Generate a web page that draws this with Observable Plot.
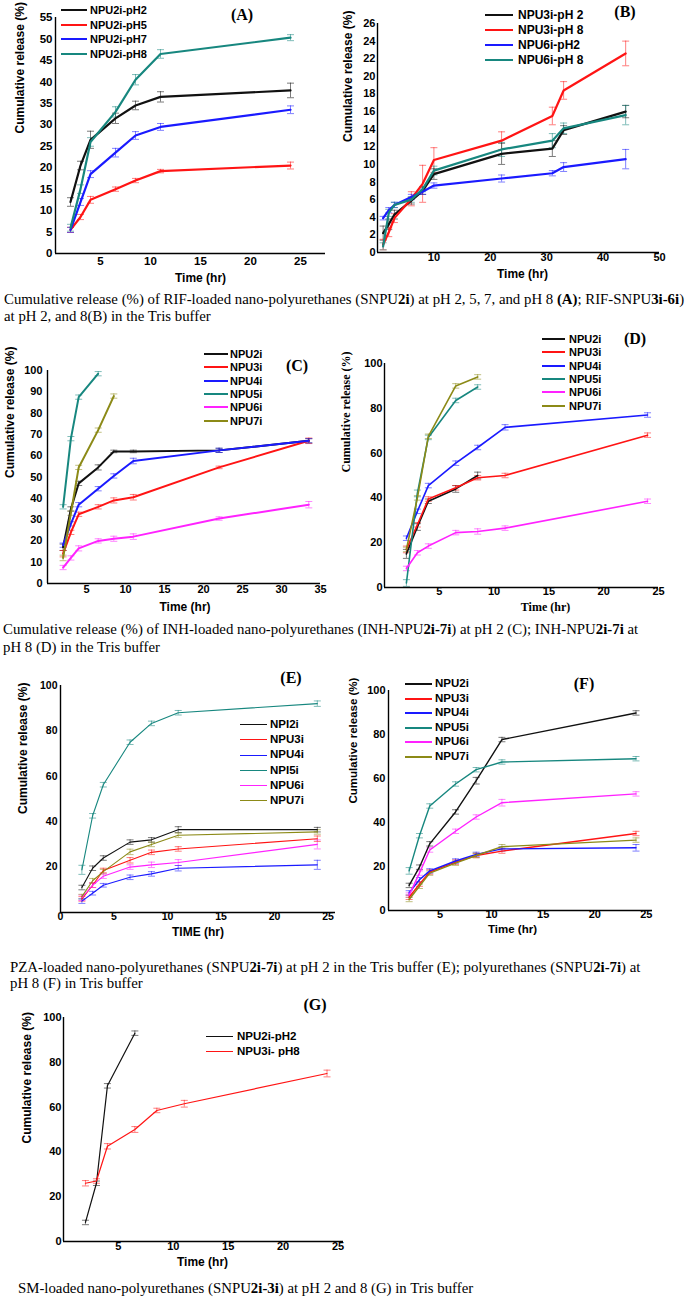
<!DOCTYPE html>
<html><head><meta charset="utf-8">
<script src="https://cdn.jsdelivr.net/npm/d3@7"></script>
<script src="https://cdn.jsdelivr.net/npm/@observablehq/plot@0.6"></script>
<style>
body{margin:0;background:#fff;}
#page{position:relative;width:687px;height:1299px;overflow:hidden;background:#fff;}
.abs{position:absolute;}
.cap{position:absolute;font-family:"Liberation Serif","Times New Roman",serif;font-size:13.5px;white-space:nowrap;line-height:1;transform:translateY(-50%);color:#000}
.leg{position:absolute;font-family:"Liberation Sans",Arial,sans-serif;font-weight:bold;white-space:nowrap;line-height:1;transform:translateY(-50%);color:#000}
.legline{position:absolute;height:0;}
.letter{position:absolute;font-family:"Liberation Serif","Times New Roman",serif;font-weight:bold;font-size:16px;line-height:1;transform:translate(-50%,-50%)}
</style></head>
<body><div id="page"></div>
<script>
// ---------- DATA ----------
const colBlack = "#111111", colRed = "#ff1414", colBlue = "#1a1aff", colTeal = "#17877f", colMag = "#ff22ff", colOlive = "#8c8a17";

// (A) RIF NPU2i at various pH
const timeA = [2, 3, 4, 6.5, 8.5, 11, 24];
const namesA = ["NPU2i-pH2", "NPU2i-pH5", "NPU2i-pH7", "NPU2i-pH8"];
const valuesA = [
  [12, 20.5, 26.5, 31.5, 34.5, 36.5, 38],
  [5.5, 8.5, 12.5, 15, 17, 19.2, 20.5],
  [5.5, 12, 18.5, 23.5, 27.5, 29.5, 33.5],
  [6, 15, 26, 33, 40.5, 46.5, 50.3]
];
const errorsA = [
  [1, 1, 2, 1.2, 1, 1.2, 1.7],
  [0.6, 0.6, 0.8, 0.5, 0.5, 0.4, 0.8],
  [0.6, 0.8, 0.8, 1, 0.9, 0.8, 0.9],
  [0.8, 1, 1, 1.2, 1.2, 1, 0.7]
];

// (B) RIF NPU3i / NPU6i
const timeB = [1, 2, 3, 6, 8, 10, 22, 31, 33, 44];
const namesB = ["NPU3i-pH 2", "NPU3i-pH 8", "NPU6i-pH2", "NPU6i-pH 8"];
const valuesB = [
  [2.2, 3.2, 4.3, 5.9, 7.0, 8.9, 11.2, 11.8, 13.9, 16.0],
  [0.9, 2.3, 3.9, 6.1, 7.8, 10.5, 12.7, 15.5, 18.4, 22.6],
  [3.9, 4.8, 5.4, 6.3, 6.9, 7.6, 8.4, 9.0, 9.7, 10.6],
  [0.7, 4.5, 5.4, 6.0, 7.2, 9.3, 11.7, 12.7, 14.1, 15.6]
];
const errorsB = [
  [0.8, 0.6, 0.5, 0.4, 0.4, 0.6, 1.2, 0.9, 0.5, 0.7],
  [0.6, 0.5, 0.5, 0.8, 2.1, 1.4, 1, 1, 1, 1.4],
  [0.2, 0.3, 0.3, 0.3, 0.3, 0.3, 0.4, 0.3, 0.5, 1.1],
  [0.4, 0.4, 0.3, 0.3, 0.3, 0.5, 0.8, 0.8, 0.6, 1.1]
];

// (C) INH pH 2
const timeC = [2, 3, 4, 6.5, 8.5, 11, 22, 33.5];
const namesC = ["NPU2i", "NPU3i", "NPU4i", "NPU5i", "NPU6i", "NPU7i"];
const valuesC = [
  [17, 35, 47, 54.5, 62, 62, 62.5, 67],
  [14, 24, 32.5, 36, 39, 40.5, 54.5, 67],
  [18, 28, 37, 44.5, 50.5, 57.5, 62.5, 67],
  [36, 68, 87.5, 98.5],
  [7.5, 12, 16.5, 20, 21, 22, 30.5, 37],
  [12, 33, 54.5, 72, 88]
];
const errorsC = [
  [1.5, 1, 1, 1.2, 0.6, 0.6, 1, 1],
  [1.5, 1, 1, 1, 1.2, 1.3, 0.6, 1.3],
  [1, 1, 1, 1, 1, 1.3, 1, 1],
  [1, 1, 1, 1],
  [1, 1, 1.2, 1, 1.2, 1.3, 0.8, 1.5],
  [1.3, 1, 1, 1, 1]
];

// (D) INH pH 8
const timeD = [2, 3, 4, 6.5, 8.5, 11, 24];
const namesD = ["NPU2i", "NPU3i", "NPU4i", "NPU5i", "NPU6i", "NPU7i"];
const valuesD = [
  [15, 27, 38.5, 44, 50],
  [17, 28, 39.5, 44.5, 49, 50, 68],
  [22, 34, 45.5, 55.5, 62.5, 71.5, 77],
  [2, 42, 67, 83.5, 89.5],
  [8.5, 15.5, 18.5, 24.5, 25, 26.5, 38.5],
  [17, 40, 67.5, 90, 94]
];
const errorsD = [
  [2, 1.5, 1, 1.5, 1.5],
  [1.5, 1, 1, 1, 1, 1, 1],
  [1, 1, 1, 1, 1, 1.2, 1],
  [1.5, 1.5, 1, 1, 1],
  [1, 1, 1, 1, 1.2, 1, 1],
  [1, 1, 1, 1, 1]
];

// (E) PZA pH 2
const timeE = [2, 3, 4, 6.5, 8.5, 11, 24];
const namesE = ["NPI2i", "NPU3i", "NPU4i", "NPI5i", "NPU6i", "NPU7i"];
const valuesE = [
  [11, 19.5, 24, 31, 32, 36.5, 36.5],
  [6, 12, 18.5, 23, 26.5, 28, 32.5],
  [5, 8.5, 12, 15.5, 17, 19.5, 21],
  [18.8, 42.6, 56.3, 75, 83.3, 88, 92],
  [6.5, 12, 16, 20, 21, 22, 30],
  [7, 14, 18, 26.7, 30, 34, 35.5]
];
const errorsE = [
  [1, 1, 1, 1, 1, 1.3, 1],
  [1, 1, 1, 1.2, 1, 1, 1.2],
  [1, 0.8, 0.8, 1, 1, 1.2, 2],
  [2, 1, 1, 1, 1, 1, 1.2],
  [1.2, 1, 1, 1, 1.2, 1.3, 2],
  [1, 1, 1, 1.2, 1, 1, 1]
];

// (F) pH 8
const timeF = [2, 3, 4, 6.5, 8.5, 11, 24];
const namesF = ["NPU2i", "NPU3i", "NPU4i", "NPU5i", "NPU6i", "NPU7i"];
const valuesF = [
  [11.4, 19.7, 30.3, 44.8, 59, 77.7, 89.8],
  [6, 12, 17.5, 22, 25, 27, 35],
  [8, 14, 18, 22.5, 25.5, 28, 28.5],
  [18, 34, 47.5, 57.5, 64, 67.5, 69],
  [7, 17, 27.5, 36, 42.5, 49, 53],
  [5, 11, 17, 21.5, 25, 29, 32]
];
const errorsF = [
  [1, 1, 1, 1, 1.5, 1, 1],
  [1, 1, 1, 1, 1, 1, 1],
  [1, 1, 1, 1, 1, 1, 1.5],
  [1.5, 1, 1, 1, 1, 1, 1],
  [1, 1, 1, 1, 1, 1.5, 1],
  [1, 1, 1, 1, 1, 1, 1]
];

// (G) SM
const timeG = [2, 3, 4, 6.5, 8.5, 11, 24];
const namesG = ["NPU2i-pH2", "NPU3i- pH8"];
const valuesG = [
  [8.5, 26, 69.5, 93],
  [26, 27, 42.5, 50, 58.5, 61.5, 75]
];
const errorsG = [
  [1, 1, 1, 1],
  [1.2, 1, 1.2, 1.3, 1, 1.5, 1.5]
];

const colors4A = [colBlack, colRed, colBlue, colTeal];
const colors6 = [colBlack, colRed, colBlue, colTeal, colMag, colOlive];
const colorsG = [colBlack, colRed];

// ---------- DRAWING ----------
const page = document.getElementById("page");
const capSym = {draw(ctx, size) { const r = Math.sqrt(size / Math.PI); ctx.moveTo(-r, 0); ctx.lineTo(r, 0); }};

function panel(cfg) {
  const rows = [], errs = [];
  cfg.values.forEach((vals, s) => {
    vals.forEach((v, i) => {
      rows.push({x: cfg.time[i], y: v, name: cfg.names[s], color: cfg.colors[s]});
      const e = cfg.errors[s][i];
      errs.push({x: cfg.time[i], lo: v - e, hi: v + e, color: cfg.colors[s]});
    });
  });
  const sansB = {fontFamily: "Liberation Sans, Arial, sans-serif", fontWeight: "bold"};
  const lblFont = cfg.serifLabels ? {fontFamily: "Liberation Serif, Times New Roman, serif", fontWeight: "bold"} : sansB;
  const svg = Plot.plot({
    width: cfg.width, height: cfg.height,
    marginLeft: cfg.fx0 - cfg.left, marginRight: cfg.left + cfg.width - cfg.fx1,
    marginTop: cfg.fyTop - cfg.top, marginBottom: cfg.top + cfg.height - cfg.fyBot,
    x: {domain: cfg.xDomain}, y: {domain: cfg.yDomain},
    color: {type: "identity"},
    style: {fontFamily: "Liberation Sans, Arial, sans-serif", fontSize: cfg.tickSize + "px", background: "transparent", overflow: "visible"},
    marks: [
      Plot.ruleX(errs, {x: "x", y1: "lo", y2: "hi", stroke: "color", strokeOpacity: 0.55, strokeWidth: 1}),
      Plot.dot(errs, {x: "x", y: "lo", symbol: capSym, r: 3.5, stroke: "color", strokeOpacity: 0.55, strokeWidth: 1, fill: "none"}),
      Plot.dot(errs, {x: "x", y: "hi", symbol: capSym, r: 3.5, stroke: "color", strokeOpacity: 0.55, strokeWidth: 1, fill: "none"}),
      Plot.line(rows, {x: "x", y: "y", z: "name", stroke: "color", strokeWidth: cfg.lineWidth}),
      Plot.ruleY([cfg.yDomain[0]], {stroke: "#000", strokeWidth: 1.4}),
      Plot.ruleX([cfg.xDomain[0]], {stroke: "#000", strokeWidth: 1.4}),
      Plot.axisX(cfg.xTicks, {tickSize: 0, tickPadding: cfg.xPad, label: null, fontSize: cfg.tickSize, ...sansB, tickFormat: d => String(d)}),
      Plot.axisY(cfg.yTicks, {tickSize: 0, tickPadding: cfg.yPad, label: null, fontSize: cfg.tickSize, ...sansB, tickFormat: d => String(d)}),
      Plot.text([cfg.xLabel], {text: d => d, frameAnchor: "bottom", dx: cfg.xLabelDx, dy: cfg.xLabelDy, fontSize: cfg.labelSize, ...lblFont}),
      Plot.text([cfg.yLabel], {text: d => d, frameAnchor: "left", rotate: -90, dx: cfg.yLabelDx, dy: cfg.yLabelDy, fontSize: cfg.labelSize, ...lblFont})
    ]
  });
  const wrap = document.createElement("div");
  wrap.className = "abs";
  wrap.style.left = cfg.left + "px";
  wrap.style.top = cfg.top + "px";
  wrap.style.width = cfg.width + "px";
  wrap.appendChild(svg);
  page.appendChild(wrap);

  // legend
  cfg.names.forEach((n, i) => {
    const y = cfg.leg.y0 + i * cfg.leg.dy;
    const ln = document.createElement("div");
    ln.className = "legline";
    ln.style.left = cfg.leg.x0 + "px";
    ln.style.width = (cfg.leg.x1 - cfg.leg.x0) + "px";
    ln.style.top = (y - cfg.leg.lw / 2) + "px";
    ln.style.borderTop = cfg.leg.lw + "px solid " + cfg.colors[i];
    page.appendChild(ln);
    const t = document.createElement("div");
    t.className = "leg";
    t.style.left = cfg.leg.tx + "px";
    t.style.top = y + "px";
    t.style.fontSize = cfg.leg.fs + "px";
    t.textContent = n;
    page.appendChild(t);
  });
  // panel letter
  const L = document.createElement("div");
  L.className = "letter";
  L.style.left = cfg.letter[1] + "px";
  L.style.top = cfg.letter[2] + "px";
  L.textContent = cfg.letter[0];
  page.appendChild(L);
}

const step = (a, b, s) => d3.range(a, b + s / 2, s);

panel({left: 0, top: 0, width: 340, height: 295, fx0: 55, fx1: 325, fyTop: 17, fyBot: 253,
  xDomain: [0.5, 27.5], yDomain: [0, 55], xTicks: step(5, 25, 5), yTicks: step(0, 55, 5), tickSize: 11.5, xPad: 3, yPad: 3,
  time: timeA, names: namesA, values: valuesA, errors: errorsA, colors: colors4A, lineWidth: 2.2,
  xLabel: "Time (hr)", yLabel: "Cumulative release (%)", labelSize: 12, xLabelDx: 10, xLabelDy: 28, yLabelDx: -35, yLabelDy: -2,
  leg: {x0: 61, x1: 87, tx: 90, y0: 10, dy: 14.5, lw: 2, fs: 11}, letter: ["(A)", 242, 15]});

panel({left: 335, top: 0, width: 352, height: 290, fx0: 377, fx1: 659, fyTop: 23, fyBot: 252,
  xDomain: [0, 50], yDomain: [0, 26], xTicks: step(10, 50, 10), yTicks: step(0, 26, 2), tickSize: 11, xPad: 1, yPad: 2,
  time: timeB, names: namesB, values: valuesB, errors: errorsB, colors: colors4A, lineWidth: 2.2,
  xLabel: "Time (hr)", yLabel: "Cumulative release (%)", labelSize: 12, xLabelDx: 4, xLabelDy: 25, yLabelDx: -29, yLabelDy: 4,
  leg: {x0: 485, x1: 513, tx: 518, y0: 15, dy: 15, lw: 2.5, fs: 12}, letter: ["(B)", 625, 12]});

panel({left: 0, top: 335, width: 340, height: 290, fx0: 47, fx1: 320, fyTop: 370, fyBot: 583,
  xDomain: [0, 35], yDomain: [0, 100], xTicks: step(5, 35, 5), yTicks: step(0, 100, 10), tickSize: 11, xPad: 1.5, yPad: 5,
  time: timeC, names: namesC, values: valuesC, errors: errorsC, colors: colors6, lineWidth: 2,
  xLabel: "Time (hr)", yLabel: "Cumulative release (%)", labelSize: 12, xLabelDx: 1, xLabelDy: 27, yLabelDx: -37, yLabelDy: 1,
  leg: {x0: 204, x1: 228, tx: 230, y0: 354, dy: 13.3, lw: 2, fs: 11}, letter: ["(C)", 297, 366]});

panel({left: 340, top: 335, width: 347, height: 290, fx0: 384, fx1: 658, fyTop: 363, fyBot: 587,
  xDomain: [0, 25], yDomain: [0, 100], xTicks: step(5, 25, 5), yTicks: step(0, 100, 20), tickSize: 11, xPad: 0, yPad: 2,
  time: timeD, names: namesD, values: valuesD, errors: errorsD, colors: colors6, lineWidth: 1.6,
  xLabel: "Time (hr)", yLabel: "Cumulative release (%)", labelSize: 12, serifLabels: true, xLabelDx: 24, xLabelDy: 23, yLabelDx: -38, yLabelDy: -3,
  leg: {x0: 542, x1: 565, tx: 569, y0: 339, dy: 13.3, lw: 2, fs: 11}, letter: ["(D)", 635, 339]});

panel({left: 0, top: 670, width: 345, height: 280, fx0: 60, fx1: 335, fyTop: 685, fyBot: 912,
  xDomain: [0, 25.7], yDomain: [0, 100], xTicks: step(0, 25, 5), yTicks: step(20, 100, 20), tickSize: 10.5, xPad: 0, yPad: 3,
  time: timeE, names: namesE, values: valuesE, errors: errorsE, colors: colors6, lineWidth: 1.1,
  xLabel: "TIME (hr)", yLabel: "Cumulative release (%)", labelSize: 12, xLabelDx: 0, xLabelDy: 23, yLabelDx: -37, yLabelDy: 15,
  leg: {x0: 240, x1: 267, tx: 270, y0: 725, dy: 15.2, lw: 1.5, fs: 11.5}, letter: ["(E)", 291, 678]});

panel({left: 340, top: 670, width: 347, height: 280, fx0: 388, fx1: 652, fyTop: 690, fyBot: 910,
  xDomain: [0, 25.6], yDomain: [0, 100], xTicks: step(5, 25, 5), yTicks: step(0, 100, 20), tickSize: 11, xPad: 0, yPad: 3,
  time: timeF, names: namesF, values: valuesF, errors: errorsF, colors: colors6, lineWidth: 1.4,
  xLabel: "Time (hr)", yLabel: "Cumulative release (%)", labelSize: 11.5, xLabelDx: -8, xLabelDy: 22, yLabelDx: -35, yLabelDy: 3,
  leg: {x0: 405, x1: 432, tx: 435, y0: 684, dy: 14.5, lw: 2, fs: 11.5}, letter: ["(F)", 584, 684]});

panel({left: 0, top: 1000, width: 345, height: 280, fx0: 63, fx1: 343, fyTop: 1017, fyBot: 1241,
  xDomain: [0, 25.5], yDomain: [0, 100], xTicks: step(5, 25, 5), yTicks: step(0, 100, 20), tickSize: 11, xPad: 0.5, yPad: 2,
  time: timeG, names: namesG, values: valuesG, errors: errorsG, colors: colorsG, lineWidth: 1.2,
  xLabel: "Time (hr)", yLabel: "Cumulative release (%)", labelSize: 12, xLabelDx: -1, xLabelDy: 24, yLabelDx: -36, yLabelDy: 14,
  leg: {x0: 206, x1: 233, tx: 237, y0: 1037, dy: 15, lw: 1.5, fs: 11.5}, letter: ["(G)", 315, 1005]});

// ---------- CAPTIONS ----------
const captions = [
  {x: 4, y: 299, w: 679, html: 'Cumulative release (%) of RIF-loaded nano-polyurethanes (SNPU<b>2i</b>) at pH 2, 5, 7, and pH 8 <b>(A)</b>; RIF-SNPU<b>3i-6i</b>)'},
  {x: 4, y: 316, html: 'at pH 2, and 8(B) in the Tris buffer'},
  {x: 3, y: 629, w: 634, html: 'Cumulative release (%) of INH-loaded nano-polyurethanes (INH-NPU<b>2i-7i</b>) at pH 2 (C); INH-NPU<b>2i-7i</b> at'},
  {x: 3, y: 647, html: 'pH 8 (D) in the Tris buffer'},
  {x: 10, y: 967, w: 633, html: 'PZA-loaded nano-polyurethanes (SNPU<b>2i-7i</b>) at pH 2 in the Tris buffer (E); polyurethanes (SNPU<b>2i-7i</b>) at'},
  {x: 10, y: 983, html: 'pH 8 (F) in Tris buffer'},
  {x: 18, y: 1288, html: 'SM-loaded nano-polyurethanes (SNPU<b>2i-3i</b>) at pH 2 and 8 (G) in Tris buffer'}
];
const capEls = captions.map(c => {
  const d = document.createElement("div");
  d.className = "cap";
  d.style.left = c.x + "px";
  d.style.top = c.y + "px";
  d.innerHTML = c.html;
  page.appendChild(d);
  return d;
});
// fit caption font size to the measured widths of the long lines
const ratios = captions.map((c, i) => c.w ? c.w / capEls[i].getBoundingClientRect().width : null).filter(r => r);
const fs = 13.5 * d3.mean(ratios);
capEls.forEach(d => d.style.fontSize = fs.toFixed(2) + "px");
</script></body></html>
